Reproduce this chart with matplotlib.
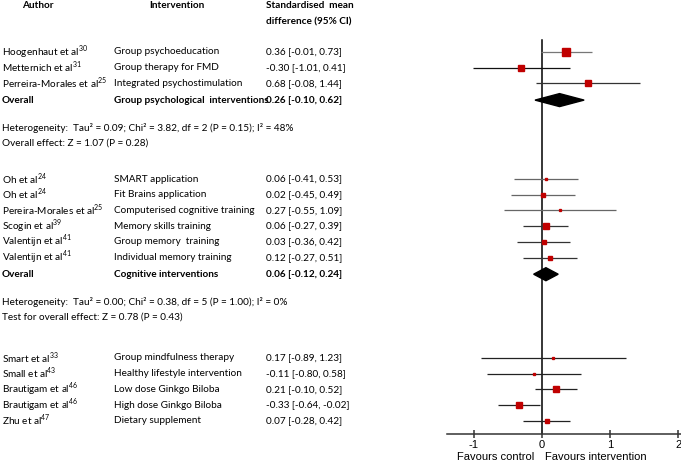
import matplotlib.pyplot as plt
from matplotlib.patches import Polygon

plt.rcParams['font.family'] = ['Lato', 'DejaVu Sans']
plt.rcParams['mathtext.fontset'] = 'custom'
plt.rcParams['mathtext.rm'] = 'Lato'
plt.rcParams['mathtext.bf'] = 'Lato:bold'

# --- data -------------------------------------------------------------------
g1_author = ["Hoogenhaut et al", "Metternich et al", "Perreira-Morales et al"]
g1_ref = ["30", "31", "25"]
g1_interv = ["Group psychoeducation", "Group therapy for FMD", "Integrated psychostimulation"]
g1_est = [0.36, -0.30, 0.68]
g1_lo = [-0.01, -1.01, -0.08]
g1_hi = [0.73, 0.41, 1.44]
g1_weight = [9, 6, 5.5]
g1_overall = (0.26, -0.10, 0.62)
g1_label = "Group psychological  interventions"
g1_notes = ["Heterogeneity:  Tau² = 0.09; Chi² = 3.82, df = 2 (P = 0.15); I² = 48%",
            "Overall effect: Z = 1.07 (P = 0.28)"]

g2_author = ["Oh et al", "Oh et al", "Pereira-Morales et al", "Scogin et al",
             "Valentijn et al", "Valentijn et al"]
g2_ref = ["24", "24", "25", "39", "41", "41"]
g2_interv = ["SMART application", "Fit Brains application", "Computerised cognitive training",
             "Memory skills training", "Group memory  training", "Individual memory training"]
g2_est = [0.06, 0.02, 0.27, 0.06, 0.03, 0.12]
g2_lo = [-0.41, -0.45, -0.55, -0.27, -0.36, -0.27]
g2_hi = [0.53, 0.49, 1.09, 0.39, 0.42, 0.51]
g2_weight = [3, 3.5, 2, 5.5, 4.5, 3.5]
g2_overall = (0.06, -0.12, 0.24)
g2_label = "Cognitive interventions"
g2_notes = ["Heterogeneity:  Tau² = 0.00; Chi² = 0.38, df = 5 (P = 1.00); I² = 0%",
            "Test for overall effect: Z = 0.78 (P = 0.43)"]

g3_author = ["Smart et al", "Small et al", "Brautigam et al", "Brautigam et al", "Zhu et al"]
g3_ref = ["33", "43", "46", "46", "47"]
g3_interv = ["Group mindfulness therapy", "Healthy lifestyle intervention",
             "Low dose Ginkgo Biloba", "High dose Ginkgo Biloba", "Dietary supplement"]
g3_est = [0.17, -0.11, 0.21, -0.33, 0.07]
g3_lo = [-0.89, -0.80, -0.10, -0.64, -0.28]
g3_hi = [1.23, 0.58, 0.52, -0.02, 0.42]
g3_weight = [2, 3, 5.5, 6, 4]

xticks = [-1, 0, 1, 2]

# --- layout (pixel rows) ----------------------------------------------------
W, H = 681, 462
ROW = 15.7
AXIS_Y = 434
groups = [
    dict(author=g1_author, ref=g1_ref, interv=g1_interv, est=g1_est, lo=g1_lo, hi=g1_hi,
         w=g1_weight, overall=g1_overall, label=g1_label, notes=g1_notes,
         top=52, wcol=["#777777", "#111111", "#333333"]),
    dict(author=g2_author, ref=g2_ref, interv=g2_interv, est=g2_est, lo=g2_lo, hi=g2_hi,
         w=g2_weight, overall=g2_overall, label=g2_label, notes=g2_notes,
         top=179, wcol=["#666666"] * 3 + ["#333333", "#333333", "#333333"]),
    dict(author=g3_author, ref=g3_ref, interv=g3_interv, est=g3_est, lo=g3_lo, hi=g3_hi,
         w=g3_weight, overall=None, label=None, notes=None,
         top=358, wcol=["#222222"] * 5),
]

fig = plt.figure(figsize=(W / 100, H / 100), dpi=100)

# text layer in pixel coordinates
tax = fig.add_axes([0, 0, 1, 1])
tax.set_xlim(0, W)
tax.set_ylim(H, 0)
tax.axis("off")

# forest layer
ax = fig.add_axes([447 / W, (H - AXIS_Y) / H, (W - 447) / W, AXIS_Y / H])
ax.set_xlim(-1.39, 2.04)
ax.set_ylim(AXIS_Y, 0)

FS = 7.2
C_AUTH, C_INT, C_SMD = 2, 114, 266
tax.text(22, 6, "Author", fontsize=FS, fontweight="bold", va="center")
tax.text(149, 6, "Intervention", fontsize=FS, fontweight="bold", va="center")
tax.text(266, 6, "Standardised  mean", fontsize=FS, fontweight="bold", va="center")
tax.text(266, 22, "difference (95% CI)", fontsize=FS, fontweight="bold", va="center")

red = "#C00000"
for g in groups:
    n = len(g["author"])
    ys = [g["top"] + i * ROW for i in range(n)]
    for i, y in enumerate(ys):
        tax.text(C_AUTH, y, g["author"][i] + r"$^{\mathrm{" + g["ref"][i] + "}}$",
                 fontsize=FS, va="center")
        tax.text(C_INT, y, g["interv"][i], fontsize=FS, va="center")
        tax.text(C_SMD, y, f"{g['est'][i]:.2f} [{g['lo'][i]:.2f}, {g['hi'][i]:.2f}]",
                 fontsize=FS, va="center")
        ax.plot([g["lo"][i], g["hi"][i]], [y, y], color=g["wcol"][i], lw=0.9,
                solid_capstyle="butt", zorder=2)
        ax.plot(g["est"][i], y, marker="s", ms=g["w"][i] * 0.7, color=red,
                mec=red, zorder=3)
    if g["overall"] is not None:
        oy = ys[-1] + ROW + 1
        m, lo, hi = g["overall"]
        tax.text(C_AUTH, oy, "Overall", fontsize=FS, fontweight="bold", va="center")
        tax.text(C_INT, oy, g["label"], fontsize=FS, fontweight="bold", va="center")
        tax.text(C_SMD, oy, f"{m:.2f} [{lo:.2f}, {hi:.2f}]", fontsize=FS,
                 fontweight="bold", va="center")
        ax.add_patch(Polygon([[lo, oy], [m, oy - 6.5], [hi, oy], [m, oy + 6.5]],
                             closed=True, color="black", zorder=3))
        ny = oy + 28
        for j, note in enumerate(g["notes"]):
            tax.text(C_AUTH, ny + j * 15, note, fontsize=FS, va="center")

# line of no effect
ax.plot([0, 0], [40, AXIS_Y], color="black", lw=1.1, zorder=1)

for s in ["top", "right", "left"]:
    ax.spines[s].set_visible(False)
ax.spines["bottom"].set_color("#333333")
ax.spines["bottom"].set_linewidth(1.1)
ax.set_yticks([])
ax.set_xticks(xticks)
ax.set_xticklabels([str(t) for t in xticks], family="Liberation Sans", fontsize=8)
ax.tick_params(axis="x", direction="inout", length=6, width=1.1, color="#333333", pad=1)

tax.text(496, 457, "Favours control", family="Liberation Sans", fontsize=8,
         ha="center", va="center")
tax.text(596, 457, "Favours intervention", family="Liberation Sans", fontsize=8,
         ha="center", va="center")

fig.savefig("out.png", dpi=100)
